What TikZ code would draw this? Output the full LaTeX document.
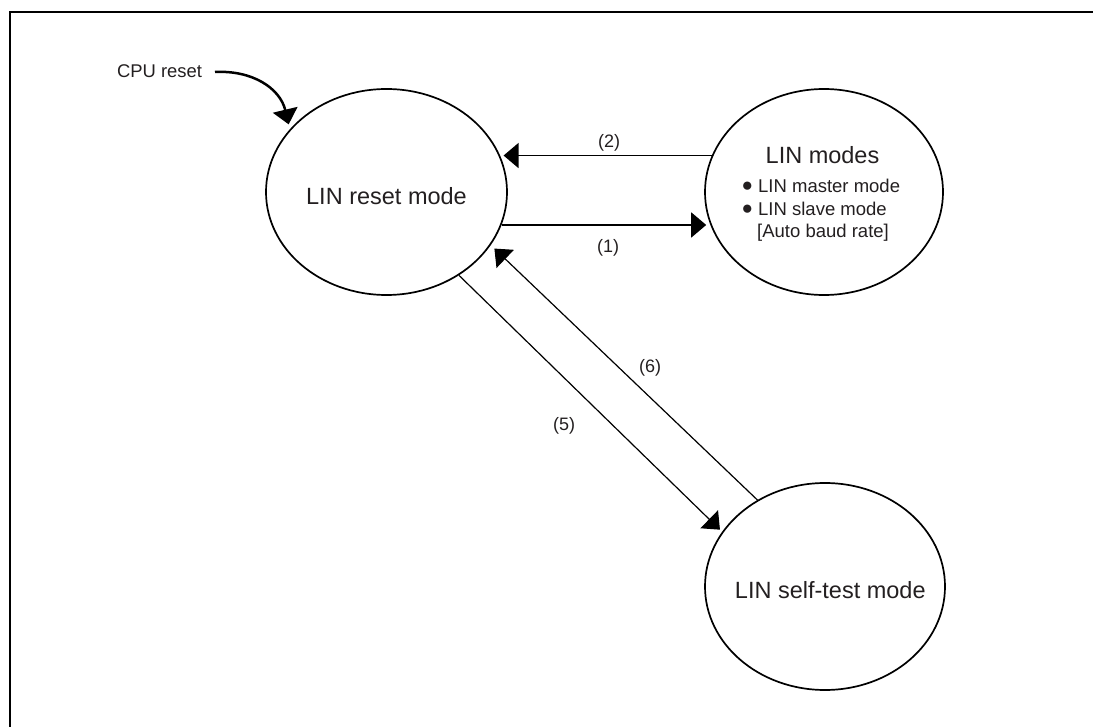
\documentclass[tikz,border=0pt]{standalone}
\usepackage{fontspec}
\setmainfont{Liberation Sans}
\usetikzlibrary{shapes.geometric,arrows.meta}
\definecolor{txt}{RGB}{35,31,32}
\newcommand{\blt}{\llap{{\fontsize{19}{19}\selectfont\raisebox{1pt}{●}}\hspace{5pt}}}
\tikzset{
  state/.style={ellipse, draw=black, line width=1.7pt, inner sep=0pt},
  tip/.style={-{Triangle[length=15pt,width=25pt]}},
  conn/.style={tip, line width=1.6pt},
  diag/.style={tip, line width=1.2pt},
  bigtxt/.style={text=txt, inner sep=0pt, anchor=base, font=\fontsize{23.5}{28}\selectfont},
  smalltxt/.style={text=txt, inner sep=0pt, anchor=base west, font=\fontsize{18.5}{22.7}\selectfont},
  lbl/.style={text=txt, inner sep=0pt, anchor=base, font=\fontsize{18}{22}\selectfont},
}
\begin{document}
\begin{tikzpicture}[x=1pt,y=-1pt]
\useasboundingbox (0,0) rectangle (1093,727);
% frame
\draw[line width=2.3pt] (10.2,727) -- (10.2,11.8) -- (1093,11.8);
% states
\node[state, minimum width=241pt, minimum height=206pt] (reset) at (386.5,192) {};
\node[state, minimum width=238pt, minimum height=206pt] (modes) at (824,192) {};
\node[state, minimum width=240pt, minimum height=207pt] (test) at (825,586.5) {};
% texts
\node[bigtxt] (resettxt) at (386.5,205) {LIN reset mode};
\node[bigtxt] (modestxt) at (822.5,164) {LIN modes};
\node[smalltxt] (m1) at (758,193) {\blt LIN master mode};
\node[smalltxt] (m2) at (758,215.5) {\blt LIN slave mode};
\node[smalltxt] (m3) at (757,238) {[Auto baud rate]};
\node[bigtxt] (testtxt) at (830.3,598.3) {LIN self-test mode};
\node[lbl, font=\fontsize{18.4}{22}\selectfont] (cpu) at (159.5,77.3) {CPU reset};
% CPU reset arrow
\coordinate (c0) at (215,72);
\draw[tip, line width=2.5pt, shorten >=5pt] (c0) .. controls (252,70) and (280,88) .. (reset.147.8);
% (2) and (1)
\draw[conn, shorten >=2pt] (modes.162.63) -- (reset.16.7 |- modes.162.63);
\draw[conn, shorten >=4pt] (reset.-16.68) -- (modes.196.84 |- reset.-16.68);
\node[lbl] (l2) at (609,148) {(2)};
\node[lbl] (l1) at (608,253) {(1)};
% (5) and (6)
\draw[diag, shorten >=3pt] (reset.-49.93) -- (test.152.4);
\draw[diag, shorten >=5pt] (test.128.66) -- (reset.-27.3);
\node[lbl] (l6) at (650,373) {(6)};
\node[lbl] (l5) at (564,431) {(5)};
\end{tikzpicture}
\end{document}
